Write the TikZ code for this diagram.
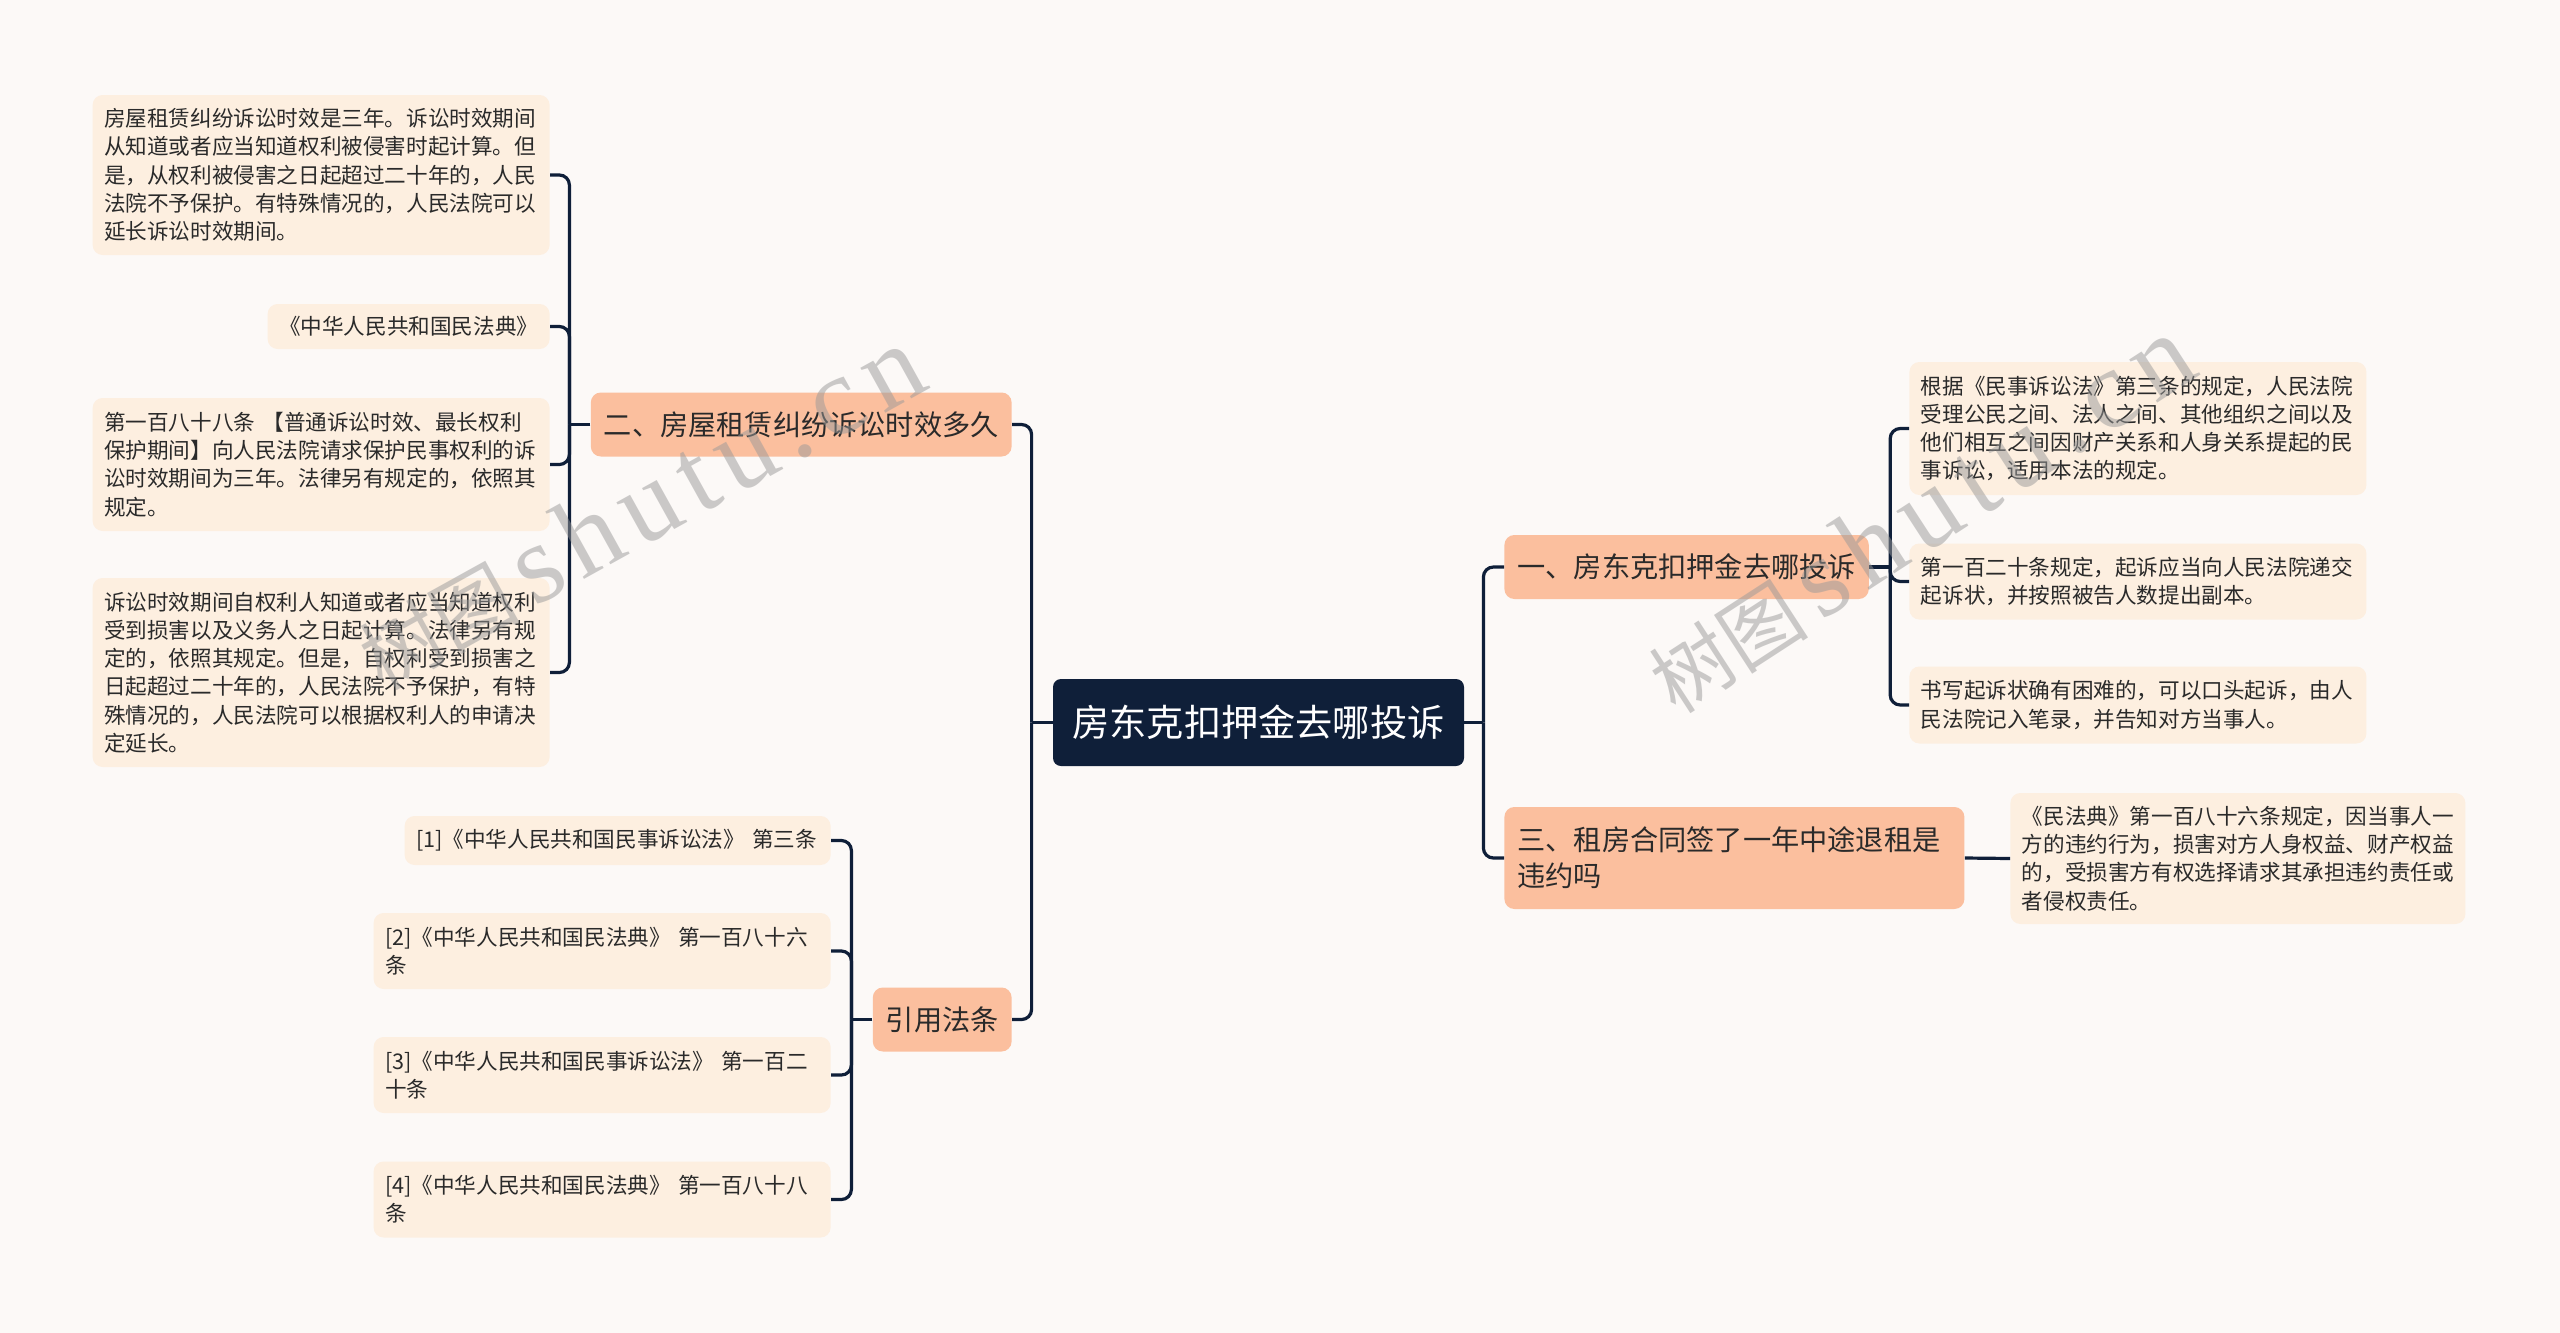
\documentclass[tikz,border=0pt]{standalone}
\usepackage{fontspec}
\setmainfont{Noto Sans CJK SC}
\newfontfamily\wmfont[LetterSpace=10]{Liberation Serif}
\usepackage{xcolor}
\usepackage{tikz}
\usetikzlibrary{positioning}
\definecolor{bgcol}{HTML}{FCF9F7}
\definecolor{rootblue}{HTML}{0F1F39}
\definecolor{branchsalmon}{HTML}{FBBF9E}
\definecolor{leafcream}{HTML}{FDEFE0}
\definecolor{textdark}{HTML}{2A2A2A}
\definecolor{wmgray}{HTML}{999999}

\begin{document}
\begin{tikzpicture}[
    x=0.5pt, y=-0.5pt,
    rootbox/.style={fill=rootblue, text=white, rounded corners=4pt, font=\fontsize{18.6}{22}\selectfont, inner xsep=9.75pt, minimum height=43.5pt},
    branchbox/.style={fill=branchsalmon, text=textdark, rounded corners=5pt, font=\fontsize{14.1}{18}\selectfont, inner xsep=6.5pt, minimum height=32pt, align=left},
    leafbox/.style={fill=leafcream, text=textdark, rounded corners=5pt, font=\fontsize{10.8}{14.1}\selectfont, inner xsep=5.75pt, inner ysep=4pt, align=left},
    conn/.style={draw=rootblue, line width=1.6pt, rounded corners=5pt},
    wmark/.style={text=wmgray, text opacity=0.5, inner sep=0pt}
]
\useasboundingbox (0,0) rectangle (2560,1333);
\fill[bgcol] (0,0) rectangle (2560,1333);

% centre and main branches
\node[rootbox] (root) at (1258.5,722.5) {房东克扣押金去哪投诉};
\node[branchbox, anchor=east] (lim) at (1012,424.5) {二、房屋租赁纠纷诉讼时效多久};
\node[branchbox, anchor=east] (refs) at (1012,1019.5) {引用法条};
\node[branchbox, anchor=west] (where) at (1504,567) {一、房东克扣押金去哪投诉};
\node[branchbox, anchor=west, text width=217pt, minimum height=51pt] (quit) at (1504,858) {三、租房合同签了一年中途退租是\\违约吗};

% leaves of the limitation branch
\node[leafbox, anchor=east, text width=217pt, minimum height=80pt] (lim1) at (550,175) {房屋租赁纠纷诉讼时效是三年。诉讼时效期间\\从知道或者应当知道权利被侵害时起计算。但\\是，从权利被侵害之日起超过二十年的，人民\\法院不予保护。有特殊情况的，人民法院可以\\延长诉讼时效期间。};
\node[leafbox, anchor=east, text width=129.5pt, minimum height=22.5pt] (lim2) at (550,326.5) {《中华人民共和国民法典》};
\node[leafbox, anchor=east, text width=217pt, minimum height=66.5pt] (lim3) at (550,464.5) {第一百八十八条 【普通诉讼时效、最长权利\\保护期间】向人民法院请求保护民事权利的诉\\讼时效期间为三年。法律另有规定的，依照其\\规定。};
\node[leafbox, anchor=east, text width=217pt, minimum height=94.5pt] (lim4) at (550,672.5) {诉讼时效期间自权利人知道或者应当知道权利\\受到损害以及义务人之日起计算。法律另有规\\定的，依照其规定。但是，自权利受到损害之\\日起超过二十年的，人民法院不予保护，有特\\殊情况的，人民法院可以根据权利人的申请决\\定延长。};

% cited articles
\node[leafbox, anchor=east, text width=201.5pt, minimum height=24.5pt] (ref1) at (831,840.5) {[1]《中华人民共和国民事诉讼法》 第三条};
\node[leafbox, anchor=east, text width=217pt, minimum height=38pt] (ref2) at (831,951) {[2]《中华人民共和国民法典》 第一百八十六\\条};
\node[leafbox, anchor=east, text width=217pt, minimum height=38pt] (ref3) at (831,1075) {[3]《中华人民共和国民事诉讼法》 第一百二\\十条};
\node[leafbox, anchor=east, text width=217pt, minimum height=38pt] (ref4) at (831,1199.5) {[4]《中华人民共和国民法典》 第一百八十八\\条};

% right side leaves
\node[leafbox, anchor=west, text width=217pt, minimum height=66.5pt] (where1) at (1909,428.5) {根据《民事诉讼法》第三条的规定，人民法院\\受理公民之间、法人之间、其他组织之间以及\\他们相互之间因财产关系和人身关系提起的民\\事诉讼，适用本法的规定。};
\node[leafbox, anchor=west, text width=217pt, minimum height=38pt] (where2) at (1909,581.5) {第一百二十条规定，起诉应当向人民法院递交\\起诉状，并按照被告人数提出副本。};
\node[leafbox, anchor=west, text width=217pt, minimum height=38.5pt] (where3) at (1909,705) {书写起诉状确有困难的，可以口头起诉，由人\\民法院记入笔录，并告知对方当事人。};
\node[leafbox, anchor=west, text width=216pt, minimum height=65.5pt] (quit1) at (2010,858.5) {《民法典》第一百八十六条规定，因当事人一\\方的违约行为，损害对方人身权益、财产权益\\的，受损害方有权选择请求其承担违约责任或\\者侵权责任。};

% connectors
\path (root.west) ++(-21,0) coordinate (rootl);
\path (root.east) ++(19,0) coordinate (rootr);
\path (lim.west) ++(-21,0) coordinate (liml);
\path (refs.west) ++(-21,0) coordinate (refsl);
\path (where.east) ++(21,0) coordinate (wherer);
\draw[conn] (root.west) -- (rootl);
\draw[conn] (rootl) |- (lim.east);
\draw[conn] (rootl) |- (refs.east);
\draw[conn] (root.east) -- (rootr);
\draw[conn] (rootr) |- (where.west);
\draw[conn] (rootr) |- (quit.west);
\draw[conn] (lim.west) -- (liml);
\foreach \n in {lim1,lim2,lim3,lim4}
  \draw[conn] (liml) |- (\n.east);
\draw[conn] (refs.west) -- (refsl);
\foreach \n in {ref1,ref2,ref3,ref4}
  \draw[conn] (refsl) |- (\n.east);
\draw[conn] (where.east) -- (wherer);
\foreach \n in {where1,where2,where3}
  \draw[conn] (wherer) |- (\n.west);
\draw[conn] (quit.east) -- (quit1.west);

% watermarks
\node[wmark, rotate=29] (wm1) at (640,508) {\fontsize{40}{40}\selectfont 树图\,{\wmfont\fontsize{56}{56}\selectfont shutu.cn}};
\node[wmark, rotate=33] (wm2) at (1920,515) {\fontsize{40}{40}\selectfont 树图\,{\wmfont\fontsize{56}{56}\selectfont shutu.cn}};
\end{tikzpicture}
\end{document}
